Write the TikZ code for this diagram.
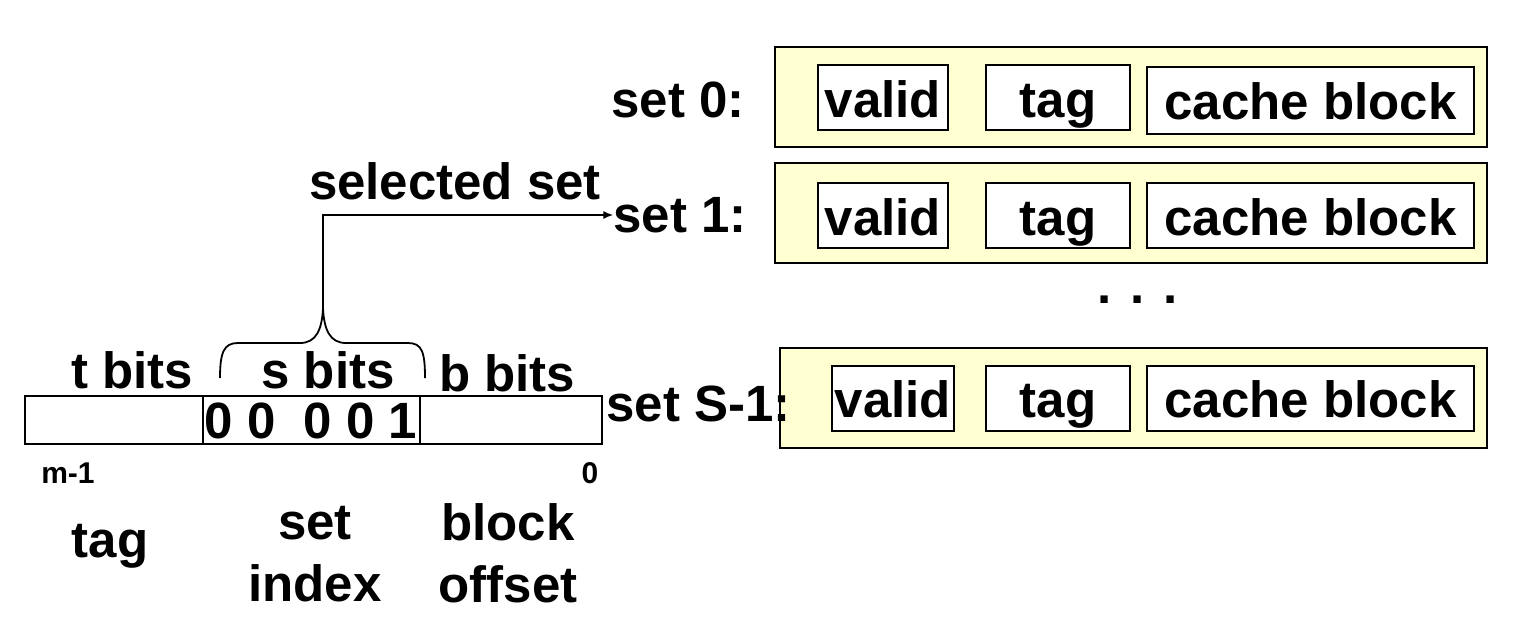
\documentclass[tikz,border=0pt]{standalone}
\usepackage{fontspec}
\setmainfont{Liberation Sans}
\usetikzlibrary{arrows.meta}
\definecolor{setfill}{RGB}{255,255,210}
\tikzset{
  big/.style={font=\fontsize{51}{62}\selectfont\bfseries, inner sep=0pt},
  small/.style={font=\fontsize{30}{36}\selectfont\bfseries, inner sep=0pt},
  setbox/.style={draw, line width=2pt, fill=setfill, minimum height=100pt, inner sep=0pt},
  fieldbox/.style={draw, line width=2pt, fill=white, minimum height=65pt, inner sep=0pt, text height=39pt, text depth=0pt, font=\fontsize{51}{62}\selectfont\bfseries},
  addrbox/.style={draw, line width=1.6pt, minimum height=48pt, inner sep=0pt},
  conn/.style={line width=1.8pt},
}
\begin{document}
\begin{tikzpicture}[x=1pt,y=-1pt]
\useasboundingbox (0,0) rectangle (1514,634);
% set boxes
\node[setbox, minimum width=712pt] (s0) at (1131,97) {};
\node[setbox, minimum width=712pt] (s1) at (1131,212.5) {};
\node[setbox, minimum width=707pt] (sS) at (1133.5,397.5) {};
% fields
\node[fieldbox, minimum width=130pt] (v0) at (883,97.5) {valid};
\node[fieldbox, minimum width=144pt] (t0) at (1058,97.5) {tag};
\node[fieldbox, minimum width=327pt, minimum height=67pt] (c0) at (1310.5,100) {cache block};
\node[fieldbox, minimum width=130pt] (v1) at (883,215.5) {valid};
\node[fieldbox, minimum width=144pt] (t1) at (1058,215.5) {tag};
\node[fieldbox, minimum width=327pt] (c1) at (1310.5,215.5) {cache block};
\node[fieldbox, minimum width=122pt] (vS) at (893,398) {valid};
\node[fieldbox, minimum width=144pt] (tS) at (1058,398) {tag};
\node[fieldbox, minimum width=327pt] (cS) at (1310.5,398) {cache block};
% set labels
\node[big, anchor=east] (l0) at (745,100) {set 0:};
\node[big, anchor=east] (l1) at (747,215) {set 1:};
\node[big, anchor=east] (lS) at (791,404) {set S-1:};
\node[big] (dots) at (1138,300) {. . .};
% address
\node[addrbox, minimum width=178pt] (fa) at (114,420) {};
\node[addrbox, minimum width=217pt] (fb) at (311.5,420) {};
\node[addrbox, minimum width=182pt] (fc) at (511,420) {};
\node[big] (bits) at (311,421) {0 0\ \ 0 0 1};
\node[big] (tb) at (132,370) {t bits};
\node[big] (sb) at (328,370) {s bits};
\node[big] (bb) at (507,373) {b bits};
\node[small] (m1) at (68,473) {m-1};
\node[small] (z0) at (590,473) {0};
\node[big] (tagl) at (110,546) {tag};
\node[big, align=center] (setl) at (315,554) {set\\index};
\node[big, align=center] (blkl) at (508,553) {block\\offset};
\node[big] (sel) at (455,181) {selected set};
% brace
\coordinate (tip) at (323,308);
\draw[conn] (220,378) .. controls (220,352) and (224,343) .. (238,343) -- (300,343)
  .. controls (316,343) and (322,330) .. (tip)
  .. controls (324,330) and (330,343) .. (346,343) -- (408,343)
  .. controls (422,343) and (425,352) .. (425,378);
\draw[conn, -{Latex[length=10pt,width=8pt]}] (tip) |- (l1.west);
\end{tikzpicture}
\end{document}
